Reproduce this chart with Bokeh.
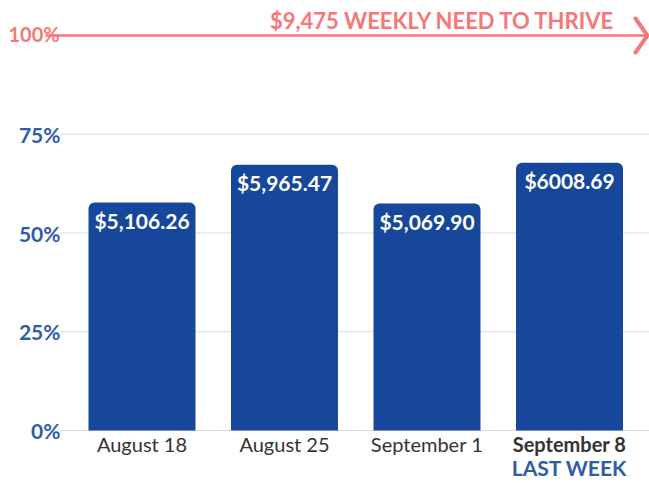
from bokeh.plotting import figure
from bokeh.models import Range1d, ColumnDataSource
from bokeh.core.properties import value
from bokeh.embed import file_html
from bokeh.resources import INLINE

# ---- data ----
weeks = ["August 18", "August 25", "September 1", "September 8"]
amounts = ["$5,106.26", "$5,965.47", "$5,069.90", "$6008.69"]
pct_of_need = [57.7, 67.3, 57.5, 67.8]          # bar heights, % of weekly need
y_ticks = [0, 25, 50, 75]
y_tick_labels = ["0%", "25%", "50%", "75%"]
goal_pct = 100
goal_tick_label = "100%"
goal_label = "$9,475 WEEKLY NEED TO THRIVE"
last_week_note = "LAST WEEK"

# ---- styles ----
BAR = "#16479b"
AXIS_BLUE = "#2e5ca8"
SALMON = "#f47878"
GRID = "#dadada"
TXT = "#333333"
FONT = "Lato"

W, H = 649, 483
PX_PER_X = 142.5
X0_PX = 141.5
PX_PER_PCT = 3.95
Y0_PX = 430

def xd(px):
    return (px - X0_PX) / PX_PER_X

p = figure(width=W, height=H,
           x_range=Range1d(xd(0), xd(W)),
           y_range=Range1d((Y0_PX - H) / PX_PER_PCT, Y0_PX / PX_PER_PCT),
           x_axis_type=None, y_axis_type=None,
           output_backend="svg", toolbar_location=None,
           min_border=0, min_border_left=0, min_border_right=0,
           min_border_top=0, min_border_bottom=0)
p.grid.visible = False
p.outline_line_color = None
p.background_fill_color = "white"
p.border_fill_color = "white"

xs = list(range(len(weeks)))
src = ColumnDataSource(dict(x=xs, top=pct_of_need, amt=amounts, week=weeks))

# gridlines
grid_left = xd(60)
grid_right = xd(W)
p.segment(x0=[grid_left] * len(y_ticks), y0=y_ticks,
          x1=[grid_right] * len(y_ticks), y1=y_ticks,
          line_color=GRID, line_width=1.2)

# bars
p.vbar(x="x", top="top", bottom=0, width=107 / PX_PER_X, source=src,
       fill_color=BAR, line_color=None, border_radius=(6, 6, 0, 0))

# value labels
p.text(x="x", y="top", text="amt", source=src, text_align="center",
       text_baseline="alphabetic", y_offset=18,
       text_font=value(FONT), text_font_style="bold",
       text_font_size="21px", text_color="white")

# y tick labels
p.text(x=[xd(60)] * len(y_ticks), y=y_ticks, text=y_tick_labels,
       text_align="right", text_baseline="middle",
       text_font=value(FONT), text_font_style="bold",
       text_font_size="21px", text_color=AXIS_BLUE)

# x labels
reg = ColumnDataSource(dict(x=xs[:-1], y=[0] * (len(xs) - 1), t=weeks[:-1]))
p.text(x="x", y="y", text="t", source=reg, text_align="center",
       text_baseline="alphabetic", y_offset=13,
       text_font=value(FONT), text_font_size="20px", text_color=TXT)
p.text(x=[xs[-1]], y=[0], text=[weeks[-1]], text_align="center",
       text_baseline="alphabetic", y_offset=13,
       text_font=value(FONT), text_font_style="bold",
       text_font_size="20px", text_color=TXT)
p.text(x=[xs[-1]], y=[0], text=[last_week_note], text_align="center",
       text_baseline="alphabetic", y_offset=37,
       text_font=value(FONT), text_font_style="bold",
       text_font_size="21px", text_color=AXIS_BLUE)

# goal line with arrow
p.segment(x0=[xd(45)], y0=[goal_pct], x1=[xd(646)], y1=[goal_pct],
          line_color=SALMON, line_width=2.5)
dy = 17 / PX_PER_PCT
p.line(x=[xd(635), xd(647), xd(635)], y=[goal_pct + dy, goal_pct, goal_pct - dy],
       line_color=SALMON, line_width=4, line_cap="round", line_join="round")
p.text(x=[xd(8)], y=[goal_pct], text=[goal_tick_label], text_align="left",
       text_baseline="middle", y_offset=-2, text_font=value(FONT),
       text_font_style="bold", text_font_size="20px", text_color=SALMON)
p.text(x=[xd(615)], y=[goal_pct], text=[goal_label], text_align="right",
       text_baseline="alphabetic", y_offset=-15,
       text_font=value(FONT), text_font_style="bold",
       text_font_size="22px", text_color=SALMON)

open("out.html", "w").write(file_html(p, INLINE))
